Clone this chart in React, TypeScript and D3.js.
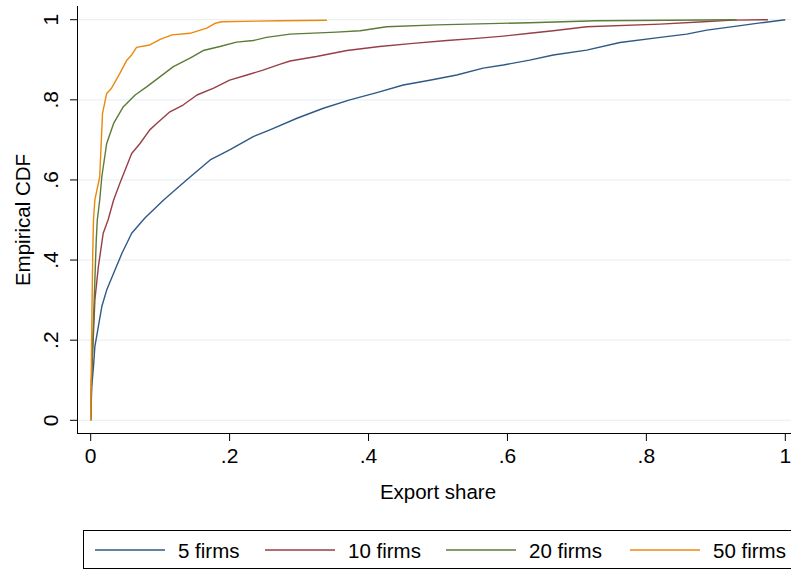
import React, { useRef, useEffect } from 'react';
import * as d3 from 'd3';

// ECDF of export share
const share5 = [0, 0.0015, 0.004, 0.006, 0.011, 0.016, 0.023, 0.033, 0.045, 0.059, 0.078, 0.105, 0.138, 0.172, 0.2, 0.234, 0.258, 0.297, 0.335, 0.373, 0.412, 0.45, 0.488, 0.527, 0.565, 0.594, 0.632, 0.666, 0.714, 0.762, 0.82, 0.858, 0.887, 0.93, 0.964, 1.0];
const cdf5 = [0, 0.084, 0.134, 0.184, 0.234, 0.284, 0.325, 0.367, 0.417, 0.467, 0.505, 0.55, 0.6, 0.65, 0.675, 0.708, 0.725, 0.754, 0.779, 0.8, 0.818, 0.837, 0.849, 0.862, 0.879, 0.887, 0.899, 0.912, 0.924, 0.943, 0.956, 0.964, 0.974, 0.984, 0.992, 1.0];

const share10 = [0, 0.001, 0.004, 0.006, 0.011, 0.018, 0.025, 0.033, 0.042, 0.059, 0.071, 0.085, 0.095, 0.114, 0.133, 0.153, 0.177, 0.2, 0.225, 0.248, 0.273, 0.287, 0.325, 0.369, 0.416, 0.464, 0.513, 0.56, 0.594, 0.632, 0.666, 0.714, 0.82, 0.882, 0.925, 0.975];
const cdf10 = [0, 0.1, 0.217, 0.3, 0.383, 0.467, 0.5, 0.55, 0.592, 0.666, 0.691, 0.725, 0.741, 0.77, 0.787, 0.812, 0.829, 0.849, 0.862, 0.874, 0.889, 0.897, 0.908, 0.923, 0.933, 0.941, 0.948, 0.954, 0.959, 0.966, 0.9725, 0.9825, 0.989, 0.995, 0.999, 1.0];

const share20 = [0, 0.002, 0.005, 0.008, 0.0095, 0.013, 0.016, 0.023, 0.033, 0.047, 0.064, 0.081, 0.1, 0.119, 0.143, 0.162, 0.186, 0.21, 0.234, 0.253, 0.287, 0.354, 0.388, 0.426, 0.498, 0.632, 0.728, 0.93];
const cdf20 = [0, 0.15, 0.3, 0.45, 0.5, 0.55, 0.608, 0.691, 0.741, 0.783, 0.812, 0.833, 0.858, 0.883, 0.904, 0.923, 0.933, 0.944, 0.948, 0.956, 0.964, 0.969, 0.9725, 0.9825, 0.987, 0.9925, 0.9975, 1.0];

const share50 = [0, 0.001, 0.002, 0.003, 0.004, 0.006, 0.013, 0.017, 0.023, 0.03, 0.042, 0.052, 0.059, 0.066, 0.085, 0.1, 0.117, 0.143, 0.167, 0.179, 0.189, 0.273, 0.34];
const cdf50 = [0, 0.15, 0.3, 0.42, 0.5, 0.55, 0.608, 0.766, 0.816, 0.829, 0.866, 0.899, 0.912, 0.931, 0.937, 0.951, 0.962, 0.966, 0.979, 0.991, 0.995, 0.9975, 0.9985];

const seriesNames = ['5 firms', '10 firms', '20 firms', '50 firms'];
const seriesColors = ['#2f5985', '#973f47', '#5b7b37', '#ec880c'];
const xTicks = [0, 0.2, 0.4, 0.6, 0.8, 1];
const yTicks = [0, 0.2, 0.4, 0.6, 0.8, 1];

const fmt = (v) => (v === 0 ? '0' : v === 1 ? '1' : String(v).replace(/^0/, ''));

const App = () => {
  const svgRef = useRef(null);
  const W = 791, H = 570;
  const font = "'Liberation Sans', Arial, sans-serif";

  useEffect(() => {
    const svg = d3.select(svgRef.current);
    svg.selectAll('*').remove();

    // plot region (Stata-style, with inner margin)
    const region = { left: 77, right: 799, top: 6, bottom: 434 };
    const x = d3.scaleLinear().domain([0, 1]).range([90.7, 785.3]);
    const y = d3.scaleLinear().domain([0, 1]).range([420.3, 19.7]);

    svg.append('rect').attr('width', W).attr('height', H).attr('fill', '#ffffff');

    // gridlines
    svg.append('g').selectAll('line').data(yTicks).join('line')
      .attr('x1', region.left).attr('x2', region.right)
      .attr('y1', d => y(d)).attr('y2', d => y(d))
      .attr('stroke', '#eaf2f3').attr('stroke-width', 1.2);

    // curves
    const data = [
      d3.zip(share5, cdf5),
      d3.zip(share10, cdf10),
      d3.zip(share20, cdf20),
      d3.zip(share50, cdf50),
    ];
    const line = d3.line().x(d => x(d[0])).y(d => y(d[1]));
    data.forEach((pts, i) => {
      svg.append('path')
        .attr('d', line(pts))
        .attr('fill', 'none')
        .attr('stroke', seriesColors[i])
        .attr('stroke-width', 1.4)
        .attr('stroke-linejoin', 'round');
    });

    // axes
    svg.append('line')
      .attr('x1', region.left + 0.5).attr('x2', region.left + 0.5)
      .attr('y1', region.top).attr('y2', region.bottom)
      .attr('stroke', '#000').attr('stroke-width', 1);
    svg.append('line')
      .attr('x1', region.left).attr('x2', region.right)
      .attr('y1', region.bottom - 0.5).attr('y2', region.bottom - 0.5)
      .attr('stroke', '#000').attr('stroke-width', 1);

    // y ticks
    const yt = svg.append('g');
    yTicks.forEach(t => {
      yt.append('line')
        .attr('x1', region.left - 7).attr('x2', region.left)
        .attr('y1', y(t)).attr('y2', y(t))
        .attr('stroke', '#000').attr('stroke-width', 1);
      yt.append('text')
        .attr('transform', `translate(58,${y(t)}) rotate(-90)`)
        .attr('text-anchor', 'middle')
        .attr('font-family', font)
        .attr('font-size', '21px')
        .attr('fill', '#000')
        .text(fmt(t));
    });

    // x ticks
    const xt = svg.append('g');
    xTicks.forEach(t => {
      xt.append('line')
        .attr('x1', x(t)).attr('x2', x(t))
        .attr('y1', region.bottom).attr('y2', region.bottom + 7)
        .attr('stroke', '#000').attr('stroke-width', 1);
      xt.append('text')
        .attr('x', x(t)).attr('y', 462.5)
        .attr('text-anchor', 'middle')
        .attr('font-family', font)
        .attr('font-size', '21px')
        .attr('fill', '#000')
        .text(fmt(t));
    });

    // axis titles
    svg.append('text')
      .attr('x', (region.left + region.right) / 2).attr('y', 499)
      .attr('text-anchor', 'middle')
      .attr('font-family', font).attr('font-size', '20.5px')
      .text('Export share');
    svg.append('text')
      .attr('transform', `translate(30,${(region.top + region.bottom) / 2}) rotate(-90)`)
      .attr('text-anchor', 'middle')
      .attr('font-family', font).attr('font-size', '20.5px')
      .text('Empirical CDF');

    // legend
    svg.append('rect')
      .attr('x', 83.5).attr('y', 530.5).attr('width', 720).attr('height', 38)
      .attr('fill', '#fff').attr('stroke', '#000').attr('stroke-width', 1);
    const legX = [95, 265, 446, 630];
    seriesNames.forEach((name, i) => {
      const g = svg.append('g');
      g.append('line')
        .attr('x1', legX[i]).attr('x2', legX[i] + 70)
        .attr('y1', 550).attr('y2', 550)
        .attr('stroke', seriesColors[i]).attr('stroke-width', 1.5);
      g.append('text')
        .attr('x', legX[i] + 83).attr('y', 557.5)
        .attr('font-family', font).attr('font-size', '20.5px')
        .text(name);
    });
  }, []);

  return (
    <svg ref={svgRef} width={W} height={H}
      style={{ position: 'absolute', left: 0, top: 0, display: 'block' }} />
  );
};

export default App;
